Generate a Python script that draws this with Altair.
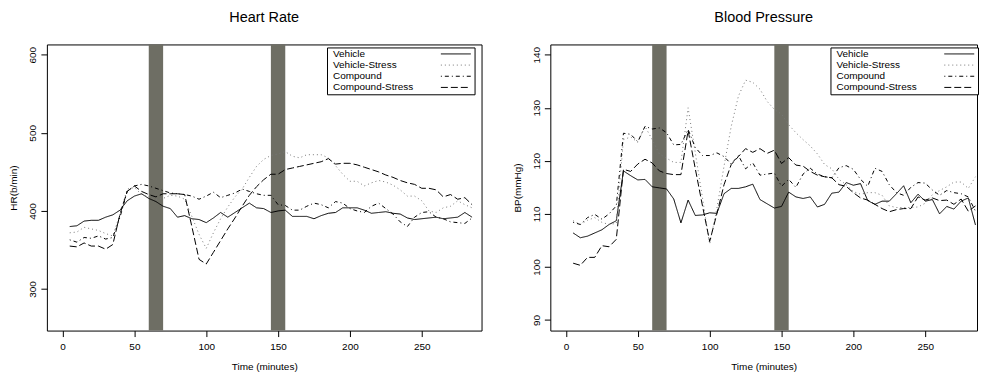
import altair as alt
import pandas as pd

FONT = "Liberation Sans"

time_min = [5, 10, 15, 20, 25, 30, 35, 40, 45, 50,
            55, 60, 65, 70, 75, 80, 85, 90, 95, 100,
            105, 110, 115, 120, 125, 130, 135, 140, 145, 150,
            155, 160, 165, 170, 175, 180, 185, 190, 195, 200,
            205, 210, 215, 220, 225, 230, 235, 240, 245, 250,
            255, 260, 265, 270, 275, 280, 285]

series_names = ["Vehicle", "Vehicle-Stress", "Compound", "Compound-Stress"]

hr_vehicle = [380, 381, 387, 388, 388, 392, 395, 401, 413, 419,
              422, 416, 412, 406, 403, 392, 394, 390, 389, 385,
              391, 398, 392, 398, 404, 410, 404, 403, 398, 400,
              401, 393, 393, 393, 390, 394, 397, 398, 404, 404,
              404, 401, 397, 398, 399, 397, 396, 391, 389, 390,
              391, 392, 390, 391, 392, 398, 392]
hr_vehicle_stress = [372, 373, 379, 377, 375, 371, 368, 396, 428, 430,
                     421, 418, 415, 416, 420, 419, 415, 393, 370, 352,
                     372, 390, 405, 418, 428, 443, 457, 466, 471, 473,
                     476, 470, 468, 472, 472, 472, 468, 458, 447, 438,
                     438, 432, 436, 439, 437, 433, 427, 419, 419, 413,
                     400, 398, 404, 406, 413, 408, 404]
hr_compound = [363, 360, 366, 365, 368, 364, 366, 392, 425, 432,
               434, 432, 429, 426, 423, 422, 421, 419, 415, 419,
               424, 417, 420, 423, 428, 425, 422, 420, 420, 408,
               407, 401, 401, 406, 410, 408, 404, 412, 410, 403,
               400, 398, 406, 410, 403, 396, 386, 380, 392, 398,
               399, 392, 390, 386, 385, 384, 391]
hr_compound_stress = [355, 354, 359, 355, 355, 351, 357, 396, 425, 432,
                      425, 421, 418, 422, 422, 422, 421, 380, 338, 332,
                      347, 362, 377, 391, 406, 420, 431, 440, 447, 447,
                      453, 455, 457, 459, 461, 463, 467, 460, 461, 461,
                      459, 456, 453, 450, 446, 443, 439, 436, 434, 429,
                      429, 427, 418, 421, 415, 417, 408]

bp_vehicle = [106.4, 105.5, 105.8, 106.4, 107.0, 108.0, 108.7, 118.1, 117.2, 116.4,
              116.5, 115.1, 114.9, 114.7, 112.8, 108.3, 112.6, 109.7, 109.8, 110.2,
              110.1, 113.8, 114.8, 114.8, 115.1, 115.6, 112.7, 111.9, 111.1, 111.4,
              114.1, 113.2, 112.9, 113.2, 111.3, 111.8, 113.9, 114.1, 115.9, 115.4,
              115.7, 112.5, 111.8, 112.4, 112.4, 113.8, 115.3, 112.1, 113.7, 112.4,
              112.7, 110.0, 111.4, 110.9, 112.4, 113.0, 107.9]
bp_vehicle_stress = [108.7, 108.0, 108.8, 109.3, 108.4, 108.0, 108.2, 124.0, 124.5, 123.5,
                     126.5, 124.0, 121.3, 120.5, 119.7, 119.7, 130.0, 121.5, 113.0, 104.3,
                     111.0, 119.0, 126.5, 132.2, 135.2, 134.8, 133.5, 131.2, 129.7, 128.8,
                     126.8, 125.3, 124.0, 122.8, 121.3, 119.3, 118.5, 116.5, 115.5, 114.2,
                     113.7, 114.0, 114.0, 113.5, 111.5, 111.2, 111.2, 111.2, 111.3, 112.0,
                     113.6, 114.4, 115.1, 116.0, 116.0, 114.8, 117.0]
bp_compound = [108.4, 108.0, 109.3, 109.9, 109.0, 110.0, 111.5, 125.2, 125.0, 123.6,
               126.5, 126.0, 126.2, 125.3, 123.0, 123.1, 125.9, 122.5, 121.0, 121.0,
               121.5, 120.8, 119.4, 121.0, 118.5, 119.6, 117.3, 117.5, 117.7, 115.2,
               116.5, 115.0, 117.5, 118.6, 117.5, 117.0, 116.8, 118.7, 119.1, 118.4,
               116.5, 115.2, 118.6, 118.0, 115.5, 114.0, 113.5, 115.0, 115.9, 115.8,
               114.5, 113.5, 114.4, 114.0, 113.8, 113.2, 110.5]
bp_compound_stress = [100.7, 100.3, 101.8, 101.8, 104.0, 103.8, 105.2, 118.4, 118.0, 119.4,
                      120.3, 119.6, 118.1, 117.6, 117.4, 117.4, 125.7, 118.5, 111.5, 104.8,
                      110.0, 115.5, 119.3, 120.8, 122.3, 121.6, 122.3, 121.4, 122.0, 119.5,
                      120.6, 119.2, 119.0, 118.0, 117.3, 117.0, 116.8, 115.5, 115.2, 114.0,
                      113.0, 112.6, 111.8, 111.0, 110.4, 110.8, 111.0, 111.0, 113.2, 112.6,
                      113.0, 112.5, 112.6, 111.8, 112.8, 110.5, 111.5]

stress_start = [60, 145]
stress_end = [70, 155]

hr_ticks = [300, 400, 500, 600]
bp_ticks = [90, 100, 110, 120, 130, 140]
time_ticks = [0, 50, 100, 150, 200, 250]


def long_df(values_list):
    rows = []
    for name, vals in zip(series_names, values_list):
        for t, v in zip(time_min, vals):
            rows.append({"time": t, "value": v, "series": name})
    return pd.DataFrame(rows)


hr_df = long_df([hr_vehicle, hr_vehicle_stress, hr_compound, hr_compound_stress])
bp_df = long_df([bp_vehicle, bp_vehicle_stress, bp_compound, bp_compound_stress])
bars_df = pd.DataFrame({"start": stress_start, "end": stress_end})

x_axis = alt.Axis(values=time_ticks, title="Time (minutes)", labelFlush=False,
                  labelPadding=5, titlePadding=10)

dash_range = [[1, 0], [1, 3], [1, 3, 4, 3], [7, 3]]
color_range = ["#000000", "#777777", "#000000", "#000000"]

# short horizontal stroke drawn as a custom symbol path (R-style legend sample)
legend = alt.Legend(
    title=None, orient="none", legendX=281, legendY=3, direction="vertical",
    symbolType="M-3,0H3", symbolSize=100, symbolStrokeWidth=1,
    symbolFillColor="transparent",
    symbolOffset={"expr": "122.7"}, labelOffset={"expr": "-128.7"},
    labelFont=FONT, labelFontSize=10,
    labelColor="#000000", labelLimit=300, strokeColor="#000000",
    fillColor="#ffffff", padding=1, rowPadding=0.2,
)


def panel(df, title, ytitle, ydomain, yticks, width, xmax):
    x_scale = alt.Scale(domain=[-10.9, xmax], nice=False, zero=False)
    bars = alt.Chart(bars_df).mark_rect(color="#6e6e64").encode(
        x=alt.X("start:Q", scale=x_scale, axis=x_axis, title="Time (minutes)"),
        x2="end:Q",
    )
    lines = alt.Chart(df).mark_line(strokeWidth=1).encode(
        x=alt.X("time:Q", scale=x_scale, axis=x_axis, title="Time (minutes)"),
        y=alt.Y("value:Q", scale=alt.Scale(domain=ydomain, nice=False, zero=False),
                axis=alt.Axis(values=yticks, title=ytitle, labelAngle=-90,
                              labelAlign="center", labelBaseline="bottom",
                              labelFlush=False, labelPadding=3, titlePadding=9)),
        color=alt.Color("series:N", scale=alt.Scale(domain=series_names, range=color_range),
                        legend=legend),
        strokeDash=alt.StrokeDash("series:N", scale=alt.Scale(domain=series_names, range=dash_range),
                                  legend=legend),
        order=alt.Order("time:Q"),
    )
    return alt.layer(bars, lines).properties(
        width=width, height=287,
        title=alt.TitleParams(title, font=FONT, fontSize=14.5, fontWeight="normal",
                              anchor="middle", frame="group", offset=19, color="#000000"),
    )


left = panel(hr_df, "Heart Rate", "HR(b/min)", [246.8, 613.2], hr_ticks, 436, 291.6)
right = panel(bp_df, "Blood Pressure", "BP(mmHg)", [88.0, 141.94], bp_ticks, 428, 286.06)

chart = alt.hconcat(left, right, spacing=29).resolve_scale(
    color="independent", strokeDash="independent"
).properties(
    padding={"left": 0, "top": 1, "right": 0, "bottom": 0},
    background="#ffffff",
).configure_view(
    stroke="#000000", strokeWidth=1
).configure_axis(
    labelFont=FONT, labelFontSize=10, labelColor="#000000",
    titleFont=FONT, titleFontSize=10, titleFontWeight="normal", titleColor="#000000",
    tickColor="#000000", tickSize=6, grid=False, domain=False,
)

chart.save("out.html", embed_options={"renderer": "svg", "actions": False})
